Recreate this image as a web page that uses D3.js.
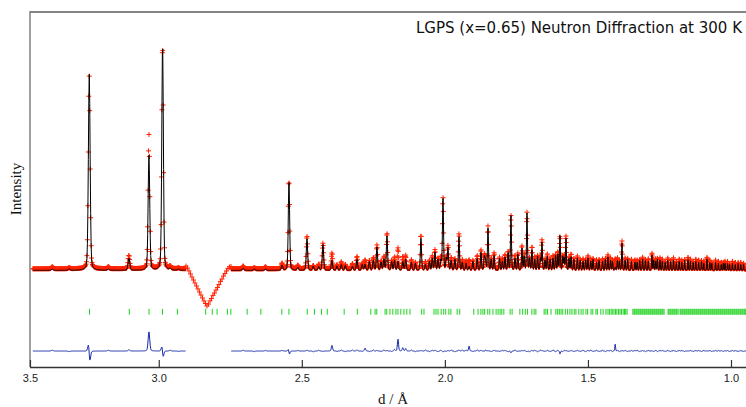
<!DOCTYPE html>
<html><head><meta charset="utf-8">
<script src="https://cdn.jsdelivr.net/npm/d3@7"></script>
<style>body{margin:0;background:#fff} svg{display:block}</style>
</head><body>
<svg id="chart" width="746" height="407"></svg>
<script>
// ---------- data ----------
const title = "LGPS (x=0.65) Neutron Diffraction at 300 K";
const xLabel = "d / Å";
const yLabel = "Intensity";
const xTicks = [3.45, 3.0, 2.5, 2.0, 1.5, 1.0];
const xTickLabels = ["3.5", "3.0", "2.5", "2.0", "1.5", "1.0"];
const dStart = 3.44, dEnd = 0.935;       // measured d range
const stepRatio = 0.0005;                // TOF channel width Δd/d
const calcBackground = 1.0;
const obsBackground = 1.08;
const fwhmRatio = 0.0022;                // peak FWHM / d
const excluded = [2.747, 2.906];         // excluded region (no calc / diff)
const diffOffset = -3.17;

// main reflections: position, calculated height, observed position, observed height
const mainPeakD = [3.2429,3.1042,3.0343,2.9866,2.5691,2.5449,2.4820,2.4261,2.3947,2.3072,2.2374,2.2024,2.1639,2.0836,2.0346,2.0066,1.9892,1.9507,1.9154,1.8738,1.8493,1.7899,1.7690,1.7306,1.7130,1.6956,1.6606,1.5978,1.5768,1.4998,1.4300,1.4048,1.3810,1.3356,1.2761,1.2482,1.1502,1.0839,1.0210];
const mainCalcH = [9.94,0.62,5.83,11.5,0.25,4.56,1.62,1.32,0.51,0.56,1.17,1.77,0.45,1.67,0.91,3.65,1.12,1.72,0.20,0.91,2.13,0.66,2.79,1.12,2.89,1.06,1.42,1.77,1.62,0.61,0.66,0.15,1.37,0.41,0.76,0.51,0.56,0.56,0.35];
const mainObsD  = [3.2431,3.1042,3.0343,2.9867,2.5691,2.5450,2.4820,2.4261,2.3947,2.3072,2.2374,2.2024,2.1639,2.0836,2.0346,2.0066,1.9892,1.9507,1.9154,1.8738,1.8493,1.7899,1.7690,1.7306,1.7130,1.6956,1.6606,1.5978,1.5768,1.4998,1.4300,1.4048,1.3810,1.3356,1.2761,1.2482,1.1502,1.0839,1.0210];
const mainObsH  = [9.80,0.68,6.80,11.45,0.28,4.50,1.66,1.30,0.80,0.62,1.20,1.80,1.05,1.70,0.95,3.60,1.15,1.78,0.45,0.95,2.15,0.70,2.70,1.15,2.85,1.10,1.45,1.62,1.65,0.65,0.70,0.50,1.40,0.45,0.78,0.55,0.58,0.58,0.38];

// weak reflections: [d, calc height, obs height]
const weakPeaks = [
 [3.372,0.06,0.10],[3.313,0.08,0.05],[3.176,0.06,0.10],[2.960,0.08,0.12],[2.931,0.06,0.04],
 [2.705,0.10,0.14],[2.666,0.08,0.05],[2.627,0.07,0.10],[2.514,0.15,0.18],[2.460,0.20,0.16],
 [2.441,0.18,0.22],[2.377,0.22,0.20],[2.362,0.30,0.35],[2.348,0.25,0.22],[2.323,0.20,0.26],
 [2.289,0.30,0.28],[2.279,0.30,0.45],[2.264,0.45,0.42],[2.250,0.50,0.55],[2.223,0.40,0.38],
 [2.213,0.55,0.60],[2.186,0.45,0.42],[2.176,0.50,0.58],[2.147,0.45,0.62],[2.137,0.55,0.68],
 [2.117,0.40,0.45],[2.103,0.35,0.32],[2.068,0.30,0.36],[2.054,0.45,0.42],[2.044,0.60,0.64],
 [2.024,0.55,0.52],[2.014,0.50,0.55],[1.995,0.60,0.58],[1.978,0.50,0.56],[1.965,0.55,0.50],
 [1.939,0.40,0.46],[1.926,0.35,0.40],[1.902,0.45,0.42],[1.887,0.60,0.66],[1.862,0.70,0.68],
 [1.858,0.50,0.56],[1.838,0.55,0.52],[1.828,0.75,0.80],[1.809,0.60,0.58],[1.799,0.45,0.50],
 [1.779,0.90,0.86],[1.755,0.60,0.66],[1.745,0.80,0.78],[1.723,0.70,0.74],[1.704,0.60,0.56],
 [1.686,0.55,0.60],[1.676,0.70,0.66],[1.666,0.60,0.64],[1.650,0.50,0.48],[1.642,0.70,0.74],
 [1.632,0.55,0.52],[1.622,0.60,0.66],[1.613,0.75,0.72],[1.605,0.80,0.84],[1.588,0.70,0.66],
 [1.583,0.60,0.64],[1.566,0.60,0.58],[1.559,0.70,0.74],[1.549,0.55,0.52],[1.537,0.60,0.64],
 [1.527,0.50,0.48],[1.517,0.45,0.50],[1.508,0.50,0.46],[1.490,0.45,0.50],[1.482,0.55,0.52],
 [1.470,0.40,0.45],[1.461,0.50,0.47],[1.449,0.45,0.50],[1.439,0.55,0.52],[1.421,0.50,0.55],
 [1.414,0.45,0.42],[1.397,0.50,0.55],[1.390,0.45,0.42],[1.370,0.50,0.54],[1.361,0.55,0.52],
 [1.348,0.45,0.48],[1.328,0.40,0.44],[1.319,0.50,0.47],[1.309,0.55,0.58],[1.299,0.50,0.47],
 [1.289,0.45,0.50],[1.270,0.50,0.47],[1.263,0.45,0.50],[1.257,0.55,0.52],[1.240,0.45,0.49],
 [1.230,0.40,0.37],[1.221,0.50,0.54],[1.211,0.45,0.42],[1.201,0.50,0.55],[1.191,0.40,0.37],
 [1.181,0.45,0.49],[1.172,0.40,0.44],[1.162,0.50,0.47],[1.142,0.45,0.49],[1.132,0.40,0.37],
 [1.123,0.45,0.49],[1.113,0.40,0.44],[1.103,0.45,0.42],[1.095,0.35,0.39],[1.074,0.40,0.44],
 [1.067,0.35,0.32],[1.054,0.40,0.44],[1.044,0.35,0.38],[1.034,0.30,0.33],[1.027,0.35,0.32],
 [1.012,0.35,0.38],[1.005,0.30,0.27],[0.995,0.35,0.38],[0.985,0.30,0.33],[0.975,0.35,0.32],
 [0.966,0.30,0.33],[0.956,0.30,0.28]
];

// observed points inside the excluded region (the dip): [d, intensity]
const dipObs = [
 [2.9049,1.22],[2.8997,1.12],[2.8944,0.97],[2.8892,0.82],[2.8839,0.66],[2.8787,0.51],
 [2.8735,0.36],[2.8682,0.21],[2.8630,0.06],[2.8577,-0.10],[2.8525,-0.25],[2.8472,-0.40],
 [2.8420,-0.55],[2.8367,-0.68],[2.8315,-0.81],[2.8263,-0.71],[2.8210,-0.55],[2.8158,-0.43],
 [2.8105,-0.27],[2.8053,-0.15],[2.8000,0.00],[2.7948,0.13],[2.7896,0.28],[2.7843,0.44],
 [2.7791,0.56],[2.7738,0.71],[2.7686,0.84],[2.7633,0.97],[2.7581,1.09],[2.7528,1.17],[2.7476,1.20]
];

// reflection tick positions (d)
const reflections = [3.242,3.103,3.034,2.987,2.935,2.836,2.813,2.796,2.760,2.748,2.691,2.643,2.570,2.545,2.481,2.456,2.431,2.411,2.352,2.306,2.259,2.244,2.238,2.209,2.203,2.192,2.182,2.171,2.164,2.154,2.143,2.133,2.122,2.081,2.073,2.038,2.031,2.024,2.013,2.004,1.997,1.986,1.979,1.957,1.948,1.899,1.884,1.874,1.867,1.861,1.850,1.843,1.832,1.821,1.814,1.807,1.801,1.794,1.772,1.765,1.738,1.728,1.719,1.711,1.696,1.688,1.682,1.653,1.647,1.641,1.629,1.612,1.606,1.600,1.594,1.588,1.579,1.571,1.563,1.556,1.548,1.542,1.532,1.524,1.517,1.507,1.501,1.489,1.483,1.472,1.467,1.455,1.447,1.437,1.430,1.425,1.419,1.415,1.409,1.404,1.399,1.393,1.388,1.383,1.377,1.372,1.368,1.363,
1.343,1.339,1.336,1.332,1.329,1.325,1.322,1.318,1.315,1.311,1.308,1.304,1.301,1.297,1.294,1.290,1.287,1.283,1.280,1.276,1.273,1.269,1.266,1.262,1.259,1.255,1.252,1.248,1.245,1.241,1.238,1.234,1.220,1.217,1.213,1.210,1.206,1.203,1.199,1.196,1.192,1.189,1.185,1.178,1.175,1.171,1.168,1.164,1.161,1.157,1.154,1.150,1.147,1.143,1.140,1.136,1.133,1.129,1.126,1.122,1.119,1.115,1.112,1.108,1.105,1.101,1.098,1.094,1.091,1.087,1.084,1.080,1.077,1.073,1.070,1.066,1.063,1.059,1.056,1.052,1.049,1.045,1.042,1.038,1.035,1.031,1.028,1.024,1.021,1.017,1.014,1.010,1.007,1.003,1.000,0.996,0.993,0.989,0.986,0.982,0.979,0.975,0.972,0.968,0.965,0.961,0.958,0.954,0.951,0.948];

// ---------- layout ----------
const W = 746, H = 407;
const plot = {left: 30, top: 12, right: 746, bottom: 367};
const svg = d3.select("#chart");

const x = d3.scaleLinear().domain([3.45, 1.0]).range([30, 731]);
const y = d3.scaleLinear().domain([-3.9, 14.1]).range([plot.bottom, plot.top]);

// ---------- profiles ----------
function pv(d, d0, h) {
  const f = fwhmRatio * d0;
  const t = (d - d0) / f;
  if (Math.abs(t) > 25) return 0;
  const g = Math.exp(-4 * Math.LN2 * t * t);
  const l = 1 / (1 + 4 * t * t);
  return h * (0.25 * l + 0.75 * g);
}
function calcAt(d) {
  let s = calcBackground;
  for (let i = 0; i < mainPeakD.length; i++) s += pv(d, mainPeakD[i], mainCalcH[i]);
  for (const p of weakPeaks) s += pv(d, p[0], p[1]);
  return s;
}
function obsAt(d) {
  let s = obsBackground;
  for (let i = 0; i < mainObsD.length; i++) s += pv(d, mainObsD[i], mainObsH[i]);
  for (const p of weakPeaks) s += pv(d, p[0], p[2]);
  return s;
}
const grid = [];
for (let d = dStart; d >= dEnd; d *= (1 - stepRatio)) grid.push(d);

const inExcl = d => d > excluded[0] && d < excluded[1];
const obsPts = [];
grid.forEach(d => { if (!inExcl(d)) obsPts.push([d, obsAt(d)]); });
dipObs.forEach(p => obsPts.push(p));

const seg1 = grid.filter(d => d >= excluded[1]);
const seg2 = grid.filter(d => d <= excluded[0]);

// ---------- drawing ----------
svg.append("defs").append("clipPath").attr("id", "clip")
  .append("rect").attr("x", plot.left).attr("y", plot.top - 1)
  .attr("width", plot.right - plot.left).attr("height", plot.bottom - plot.top + 1);
const g = svg.append("g").attr("clip-path", "url(#clip)");

// observed: red plus markers
let mp = "";
const ms = 2.5;
obsPts.forEach(([d, v]) => {
  const px = x(d), py = y(v);
  mp += `M${(px - ms).toFixed(2)},${py.toFixed(2)}h${2*ms}M${px.toFixed(2)},${(py - ms).toFixed(2)}v${2*ms}`;
});
g.append("path").attr("d", mp).attr("stroke", "#ff2200").attr("stroke-width", 1).attr("fill", "none");

// calculated: black line
const calcLine = d3.line().x(d => x(d)).y(d => y(calcAt(d)));
[seg1, seg2].forEach(s => g.append("path").attr("d", calcLine(s))
  .attr("fill", "none").attr("stroke", "#000").attr("stroke-width", 1));

// reflection ticks
g.append("g").selectAll("line").data(reflections).join("line")
  .attr("x1", d => x(d)).attr("x2", d => x(d))
  .attr("y1", y(-0.95)).attr("y2", y(-1.25))
  .attr("stroke", "#1ed21e").attr("stroke-width", 1);

// difference: blue line
const diffLine = d3.line().x(d => x(d)).y(d => y(obsAt(d) - calcAt(d) + diffOffset));
[seg1, seg2].forEach(s => g.append("path").attr("d", diffLine(s))
  .attr("fill", "none").attr("stroke", "#1428a8").attr("stroke-width", 1));

// frame
svg.append("line").attr("x1", plot.left).attr("x2", W).attr("y1", plot.top).attr("y2", plot.top)
  .attr("stroke", "#858585").attr("stroke-width", 2);
svg.append("line").attr("x1", plot.left).attr("x2", plot.left).attr("y1", plot.top - 1).attr("y2", plot.bottom)
  .attr("stroke", "#808080").attr("stroke-width", 1.5);

// x axis
const ax = svg.append("g").attr("transform", `translate(0,${plot.bottom})`)
  .call(d3.axisBottom(x).tickValues(xTicks).tickFormat((d, i) => xTickLabels[i])
    .tickSize(-7).tickSizeOuter(0).tickPadding(7));
ax.select(".domain").attr("d", `M${plot.left},0.5H${W}`).attr("stroke", "#333").attr("stroke-width", 1.3);
ax.selectAll(".tick line").attr("stroke", "#333").attr("stroke-width", 1.2);
ax.selectAll(".tick text").attr("font-family", "Liberation Sans, Arial, sans-serif")
  .attr("font-size", 11).attr("fill", "#222");

// labels
svg.append("text").attr("x", 393).attr("y", 404).attr("text-anchor", "middle")
  .attr("font-family", "Liberation Serif, Times New Roman, serif").attr("font-size", 15)
  .attr("fill", "#111").text(xLabel);
svg.append("text").attr("transform", "translate(21,189) rotate(-90)").attr("text-anchor", "middle")
  .attr("font-family", "Liberation Serif, Times New Roman, serif").attr("font-size", 15)
  .attr("fill", "#111").text(yLabel);
svg.append("text").attr("x", 742).attr("y", 33).attr("text-anchor", "end")
  .attr("font-family", "DejaVu Sans, Verdana, sans-serif").attr("font-size", 15)
  .attr("fill", "#111").text(title);
</script>
</body></html>
